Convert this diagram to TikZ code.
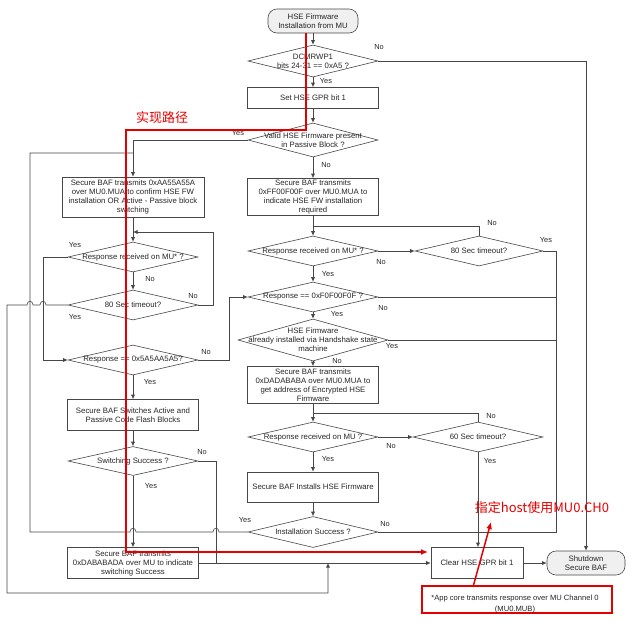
\documentclass[tikz,border=0pt]{standalone}
\usepackage{fontspec}
\setmainfont{Liberation Sans}
\newfontfamily\cjkfont{Noto Sans CJK SC}
\usetikzlibrary{arrows.meta, calc, shapes.geometric}

\colorlet{linec}{black!72}
\colorlet{textc}{black!85}
\colorlet{markc}{red!90!black}

\begin{document}
\begin{tikzpicture}[x=1pt, y=-1pt, >={Latex[length=4.5pt,width=4pt]},
  box/.style={draw=linec, line width=0.6pt, rectangle, align=center, inner sep=1pt,
    text=textc, font=\fontsize{7.8}{9}\selectfont},
  term/.style={box, rounded corners=9pt, fill=gray!12},
  decision/.style 2 args={draw=linec, line width=0.6pt, diamond, inner sep=0pt,
    minimum width=#1, minimum height=#2},
  dtext/.style={align=center, inner sep=0pt, text=textc, font=\fontsize{7.8}{9}\selectfont},
  lbl/.style={inner sep=0pt, text=textc, font=\fontsize{7.4}{8}\selectfont},
  line/.style={draw=linec, line width=0.6pt},
  flow/.style={line, ->},
  redpath/.style={draw=markc, line width=1.5pt},
  redtext/.style={inner sep=0pt, text=markc, font=\cjkfont\fontsize{13}{15}\selectfont},
]
\useasboundingbox (0,0) rectangle (632,622);

%% ============================================================
%% small bridge where a horizontal line (drawn leftwards) hops
%% over a vertical one
%% ============================================================
\def\hopL#1#2{-- (#1+3,#2) .. controls (#1+3,#2-5) and (#1-3,#2-5) .. (#1-3,#2)}

%% ---- Middle column ----
\node[term, minimum width=90, minimum height=24] (start) at (313,21)
  {HSE Firmware\\Installation from MU};
\node[decision={130}{32}] (d1) at (313,61) {};
\node[dtext] (d1t) at (d1) {DCMRWP1\\bits 24-31 == 0xA5 ?};
\node[box, minimum width=131, minimum height=21] (gpr) at (313,98) {Set HSE GPR bit 1};
\node[decision={130}{34}] (valid) at (313,140) {};
\node[dtext] (validt) at (valid) {Valid HSE Firmware present\\in Passive Block ?};
\node[box, minimum width=131, minimum height=37] (ff00) at (313,197)
  {Secure BAF transmits\\0xFF00F00F over MU0.MUA to\\indicate HSE FW installation\\required};
\node[decision={130}{30}] (rr1) at (313,251) {};
\node[dtext] (rr1t) at (rr1) {Response received on MU* ?};
\node[decision={128}{30}] (t80r) at (479,251) {};
\node[dtext] (t80rt) at (t80r) {80 Sec timeout?};
\node[decision={130}{30}] (f0) at (313,297) {};
\node[dtext] (f0t) at (f0) {Response == 0xF0F00F0F ?};
\node[decision={150}{42}] (inst) at (313,340) {};
\node[dtext] (instt) at (inst) {HSE Firmware\\already installed via Handshake state\\machine};
\node[box, minimum width=131, minimum height=37] (dada) at (313,385)
  {Secure BAF transmits\\0xDADABABA over MU0.MUA to\\get address of Encrypted HSE\\Firmware};
\node[decision={130}{30}] (rr2) at (313,437) {};
\node[dtext] (rr2t) at (rr2) {Response received on MU ?};
\node[decision={130}{30}] (t60) at (478,437) {};
\node[dtext] (t60t) at (t60) {60 Sec timeout?};
\node[box, minimum width=131, minimum height=30] (installs) at (313,487)
  {Secure BAF Installs HSE Firmware};
\node[decision={130}{31}] (succ) at (313,532) {};
\node[dtext] (succt) at (succ) {Installation Success ?};

%% ---- Left column ----
\node[box, minimum width=142, minimum height=40] (aa55) at (133,197)
  {Secure BAF transmits 0xAA55A55A\\over MU0.MUA to confirm HSE FW\\installation OR Active - Passive block\\switching};
\node[decision={130}{30}] (rr3) at (133,257) {};
\node[dtext] (rr3t) at (rr3) {Response received on MU* ?};
\node[decision={130}{30}] (t80l) at (133,305) {};
\node[dtext] (t80lt) at (t80l) {80 Sec timeout?};
\node[decision={130}{30}] (d5a) at (133,360) {};
\node[dtext] (d5at) at (d5a) {Response == 0x5A5AA5A5?};
\node[box, minimum width=131, minimum height=31] (switches) at (133,415)
  {Secure BAF Switches Active and\\Passive Code Flash Blocks};
\node[decision={130}{29}] (sw) at (133,461) {};
\node[dtext] (swt) at (sw) {Switching Success ?};
\node[box, minimum width=131, minimum height=31] (dabab) at (133,563)
  {Secure BAF transmits\\0xDABABADA over MU to indicate\\switching Success};

%% ---- Right end ----
\node[box, minimum width=92, minimum height=31] (clear) at (477,563) {Clear HSE GPR bit 1};
\node[term, minimum width=78, minimum height=24] (shutdown) at (586,563)
  {Shutdown\\Secure BAF};

%% ---- Main column arrows ----
\draw[flow] (start) -- (d1);
\draw[flow] (d1) -- (gpr);
\draw[flow] (gpr) -- (valid);
\draw[flow] (valid) -- (ff00);
\draw[flow] (ff00) -- (rr1);
\draw[flow] (rr1) -- (t80r);
\draw[flow] (rr1) -- (f0);
\draw[flow] (f0) -- (inst);
\draw[flow] (inst) -- (dada);
\draw[flow] (dada) -- (rr2);
\draw[flow] (rr2) -- (t60);
\draw[flow] (rr2) -- (installs);
\draw[flow] (installs) -- (succ);

%% timeout loops back above the response checks
\draw[line] (t80r.north) -- (479,226) -- (313,226);
\draw[line] (t60.north) -- (478,413) -- (313,413);

%% ---- Right collector lines ----
\draw[flow] (d1.east) -- (586,61) -- (shutdown.north);
\draw[line] (t80r.east) -- (556,251) -- (556,532) -- (succ.east);
\draw[line] (f0.east) -- (556,297);
\draw[line] (inst.east) -- (556,340);
\draw[flow] (t60.south) -- (t60.south |- clear.north);
\draw[flow] (clear) -- (shutdown);

%% ---- Left column arrows ----
\draw[flow] (valid.west) -- (133,140) -- (aa55.north);
\draw[flow] (aa55) -- (rr3);
\draw[flow] (rr3) -- (t80l);
\draw[flow] (t80l.east) -- (213,305) -- (213,232) -- (133,232);
\draw[flow] (rr3.west) -- (43,257) -- (43,360) -- (d5a.west);
\draw[flow] (d5a.east) -- (229,360) -- (229,297) -- (f0.west);
\draw[flow] (d5a) -- (switches);
\draw[flow] (switches) -- (sw);
\draw[flow] (sw) -- (dabab);
\draw[line] (sw.east) -- (216,461) -- (216,563);
\draw[flow] (dabab) -- (clear);

%% installation success -> back to confirm step
\draw[line] (succ.west) \hopL{216}{532} \hopL{133}{532} -- (30,532) -- (30,153) -- (133,153);
%% left timeout -> clear GPR bit
\draw[flow] (t80l.west) \hopL{43}{305} \hopL{30}{305} -- (7,305) -- (7,593) -- (328,593) -- (328,563);

%% ---- Labels ----
\node[lbl] (l1)  at (379,47)  {No};
\node[lbl] (l2)  at (326,81)  {Yes};
\node[lbl] (l3)  at (238,133) {Yes};
\node[lbl] (l4)  at (326,165) {No};
\node[lbl] (l5)  at (75,245)  {Yes};
\node[lbl] (l6)  at (150,279) {No};
\node[lbl] (l7)  at (193,296) {No};
\node[lbl] (l8)  at (75,317)  {Yes};
\node[lbl] (l9)  at (206,352) {No};
\node[lbl] (l10) at (150,382) {Yes};
\node[lbl] (l11) at (202,452) {No};
\node[lbl] (l12) at (151,486) {Yes};
\node[lbl] (l13) at (492,223) {No};
\node[lbl] (l14) at (546,240) {Yes};
\node[lbl] (l15) at (381,262) {No};
\node[lbl] (l16) at (328,274) {Yes};
\node[lbl] (l17) at (383,308) {No};
\node[lbl] (l18) at (337,314) {Yes};
\node[lbl] (l19) at (392,346) {Yes};
\node[lbl] (l20) at (337,361) {No};
\node[lbl] (l21) at (491,416) {No};
\node[lbl] (l22) at (391,446) {No};
\node[lbl] (l23) at (490,461) {Yes};
\node[lbl] (l24) at (328,459) {Yes};
\node[lbl] (l25) at (245,520) {Yes};
\node[lbl] (l26) at (385,524) {No};

%% ---- Footnote ----
\node[draw=markc, line width=1.3pt, minimum width=190, minimum height=27] (note) at (517,599.5) {};
\node[dtext, font=\fontsize{7.6}{11}\selectfont] (notet) at (515,604)
  {*App core transmits response over MU Channel 0\\(MU0.MUB)};

%% ============================================================
%% Red annotations
%% ============================================================
\coordinate (r0) at (306,33);
\coordinate (r1) at (306,130);
\coordinate (r2) at (126,130);
\coordinate (r3) at (126,552);
\coordinate (r4) at (428,552);
\draw[redpath, -{Latex[length=7pt,width=6pt]}] (r0) -- (r1) -- (r2) -- (r3) -- (r4);
\node[redtext] (pathnote) at (162,118) {实现路径};

\node[redtext] (hostnote) at (542,508) {指定host使用MU0.CH0};
\coordinate (a0) at (473,587);
\coordinate (a1) at (491,522);
\draw[redpath, -{Latex[length=7pt,width=6pt]}] (a0) -- (a1);

\end{tikzpicture}
\end{document}
